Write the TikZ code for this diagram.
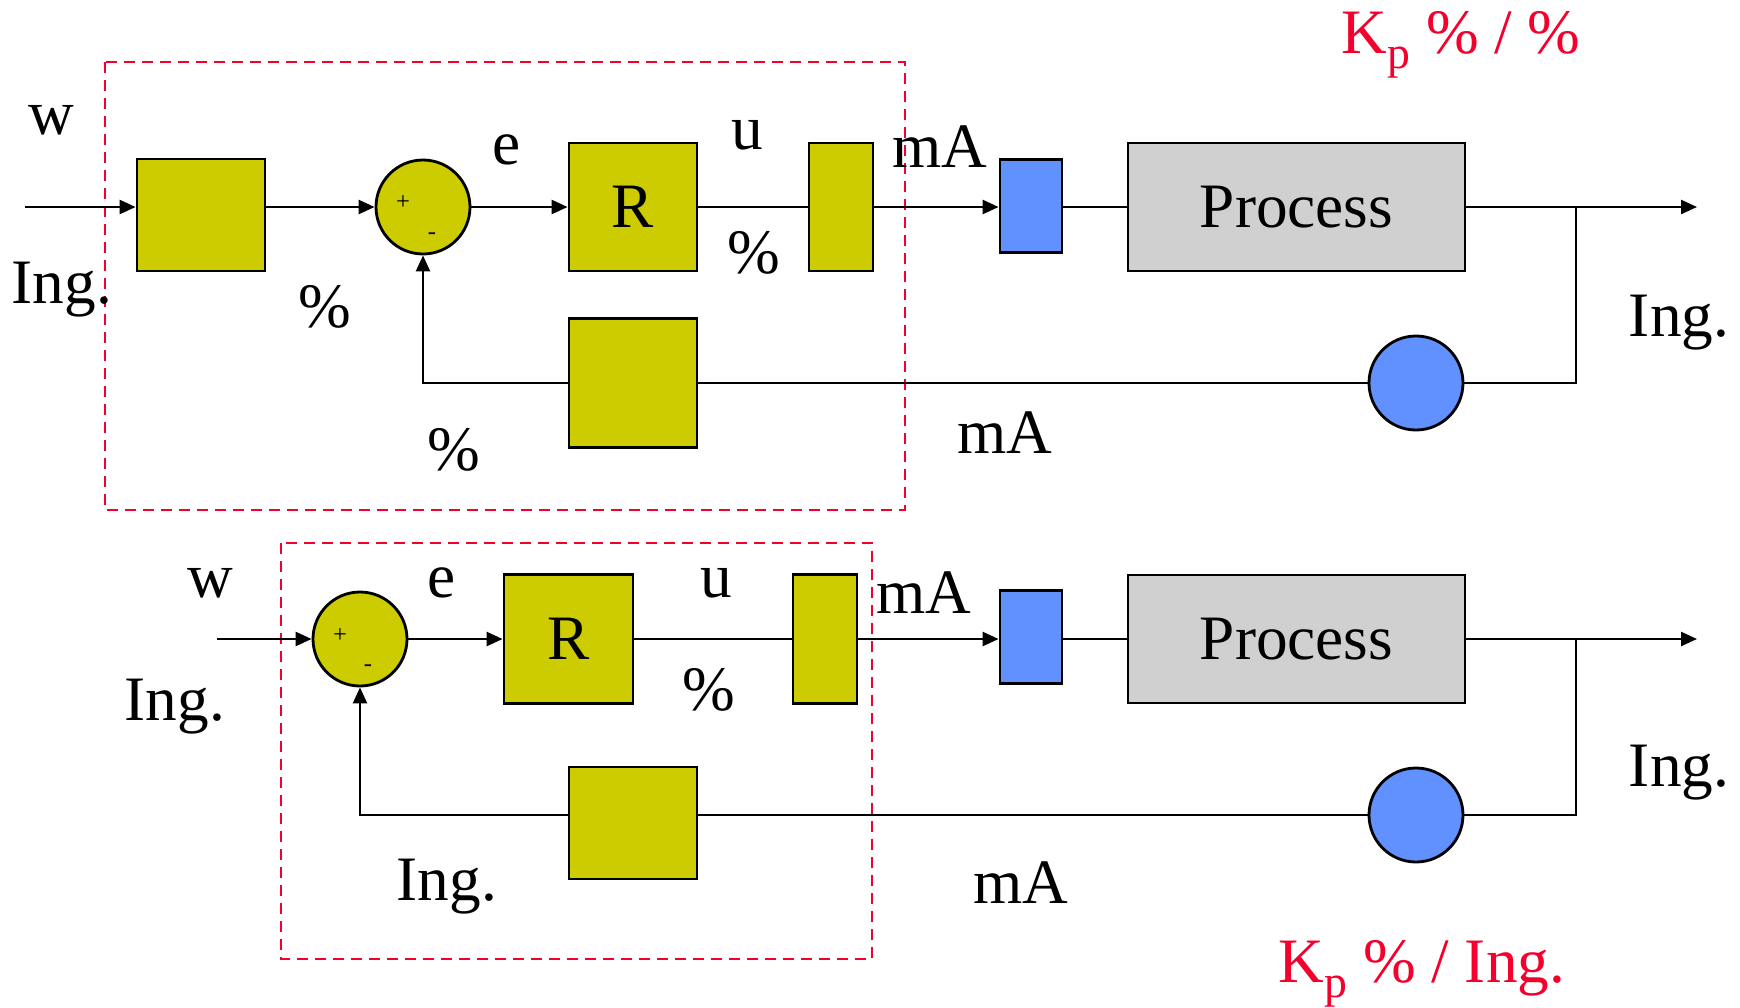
\documentclass[tikz,border=0pt]{standalone}
\usepackage{fontspec}
\setmainfont{Liberation Serif}
\usetikzlibrary{arrows.meta}

\definecolor{blockyellow}{RGB}{204,204,0}
\definecolor{valveblue}{RGB}{97,144,255}
\definecolor{procgray}{RGB}{208,208,208}
\definecolor{kpred}{RGB}{245,0,45}

\newcommand{\kpsub}{K\raisebox{-4.5pt}{\fontsize{13}{13}\selectfont p}}

\begin{document}
\begin{tikzpicture}[
    >={Triangle[length=1.6mm,width=1.4mm]},
    lbl/.style={font=\fontsize{18}{20}\selectfont, inner sep=0pt},
    sgn/.style={font=\fontsize{7}{8}\selectfont, inner sep=0pt},
    kp/.style={lbl, text=kpred},
    yblock/.style={draw, line width=0.8pt, fill=blockyellow, inner sep=0pt,
                   font=\fontsize{18}{20}\selectfont},
    summer/.style={draw, circle, line width=0.8pt, fill=blockyellow,
                   minimum size=9.4mm, inner sep=0pt},
    valve/.style={draw, line width=0.8pt, fill=valveblue, inner sep=0pt,
                  minimum width=6.2mm, minimum height=9.3mm},
    sensor/.style={draw, circle, line width=0.8pt, fill=valveblue,
                   minimum size=9.4mm, inner sep=0pt},
    process/.style={draw, line width=0.8pt, fill=procgray, inner sep=0pt,
                    minimum width=33.7mm, minimum height=12.8mm,
                    font=\fontsize{18}{20}\selectfont},
    wire/.style={line width=0.7pt},
    zone/.style={draw=kpred, dashed, line width=0.8pt,
                 dash pattern=on 1.1mm off 0.7mm}
  ]
  \useasboundingbox (0,0) rectangle (17.40,-10.07);

  % upper loop: set point scaled in %
  \draw[zone] (1.05,-0.62) rectangle (9.05,-5.10);

  \coordinate (in1) at (0.25,-2.07);
  \node[yblock, minimum width=12.8mm, minimum height=11.2mm] (pre1) at (2.01,-2.15) {};
  \node[summer] (sum1) at (4.23,-2.07) {};
  \node[sgn] (plus1) at (4.03,-2.03) {+};
  \node[sgn] (minus1) at (4.32,-2.36) {-};
  \node[yblock, minimum width=12.8mm, minimum height=12.8mm] (reg1) at (6.33,-2.07) {R};
  \node[yblock, minimum width=6.4mm, minimum height=12.8mm] (act1) at (8.41,-2.07) {};
  \node[valve] (valve1) at (10.31,-2.06) {};
  \node[process] (proc1) at (12.965,-2.07) {Process};
  \coordinate (out1) at (16.97,-2.07);
  \coordinate (split1) at (15.76,-2.07);
  \coordinate (corner1) at (15.76,-3.83);
  \node[sensor] (sens1) at (14.16,-3.83) {};
  \node[yblock, minimum width=12.8mm, minimum height=12.9mm] (tr1) at (6.33,-3.83) {};
  \coordinate (fb1) at (4.23,-3.83);

  \draw[wire, ->] (in1) -- (in1 -| pre1.west);
  \draw[wire, ->] (pre1.east |- sum1) -- (sum1.west);
  \draw[wire, ->] (sum1.east) -- (reg1.west);
  \draw[wire] (reg1.east) -- (act1.west);
  \draw[wire, ->] (act1.east) -- (valve1.west |- act1.east);
  \draw[wire] (valve1.east |- proc1.west) -- (proc1.west);
  \draw[wire, ->] (proc1.east) -- (out1);
  \draw[wire] (split1) -- (corner1) -- (sens1.east);
  \draw[wire] (sens1.west) -- (tr1.east);
  \draw[wire, ->] (tr1.west) -- (fb1) -- (sum1.south);

  \node[lbl] (w1) at (0.51,-1.20) {w};
  \node[lbl] (ing1) at (0.62,-2.90) {Ing.};
  \node[lbl] (pc1) at (3.25,-3.07) {\%};
  \node[lbl] (e1) at (5.07,-1.50) {e};
  \node[lbl] (u1) at (7.47,-1.35) {u};
  \node[lbl] (pcu1) at (7.54,-2.53) {\%};
  \node[lbl] (ma1) at (9.40,-1.47) {mA};
  \node[lbl] (pcf1) at (4.54,-4.50) {\%};
  \node[lbl] (mab1) at (10.05,-4.33) {mA};
  \node[lbl] (ingr1) at (16.79,-3.23) {Ing.};
  \node[kp, anchor=base west] (kp1) at (13.41,-0.53) {\kpsub{} \% / \%};

  % lower loop: set point in engineering units
  \draw[zone] (2.81,-5.43) rectangle (8.72,-9.59);

  \coordinate (in2) at (2.17,-6.39);
  \node[summer] (sum2) at (3.60,-6.39) {};
  \node[sgn] (plus2) at (3.40,-6.36) {+};
  \node[sgn] (minus2) at (3.68,-6.68) {-};
  \node[yblock, minimum width=12.9mm, minimum height=12.9mm] (reg2) at (5.685,-6.39) {R};
  \node[yblock, minimum width=6.4mm, minimum height=12.9mm] (act2) at (8.25,-6.39) {};
  \node[valve] (valve2) at (10.31,-6.37) {};
  \node[process] (proc2) at (12.965,-6.39) {Process};
  \coordinate (out2) at (16.97,-6.39);
  \coordinate (split2) at (15.76,-6.39);
  \coordinate (corner2) at (15.76,-8.15);
  \node[sensor] (sens2) at (14.16,-8.15) {};
  \node[yblock, minimum width=12.8mm, minimum height=11.2mm] (tr2) at (6.33,-8.23) {};
  \coordinate (fb2) at (3.60,-8.15);

  \draw[wire, ->] (in2) -- (sum2.west);
  \draw[wire, ->] (sum2.east) -- (reg2.west);
  \draw[wire] (reg2.east) -- (act2.west);
  \draw[wire, ->] (act2.east) -- (valve2.west |- act2.east);
  \draw[wire] (valve2.east |- proc2.west) -- (proc2.west);
  \draw[wire, ->] (proc2.east) -- (out2);
  \draw[wire] (split2) -- (corner2) -- (sens2.east);
  \draw[wire] (sens2.west) -- (sens2.west -| tr2.east);
  \draw[wire, ->] (tr2.west |- fb2) -- (fb2) -- (sum2.south);

  \node[lbl] (w2) at (2.10,-5.83) {w};
  \node[lbl] (ing2) at (1.75,-7.07) {Ing.};
  \node[lbl] (e2) at (4.42,-5.83) {e};
  \node[lbl] (u2) at (7.16,-5.83) {u};
  \node[lbl] (pcu2) at (7.09,-6.90) {\%};
  \node[lbl] (ma2) at (9.24,-5.93) {mA};
  \node[lbl] (ingf2) at (4.47,-8.87) {Ing.};
  \node[lbl] (mab2) at (10.21,-8.83) {mA};
  \node[lbl] (ingr2) at (16.79,-7.73) {Ing.};
  \node[kp, anchor=base west] (kp2) at (12.78,-9.82) {\kpsub{} \% / Ing.};
\end{tikzpicture}
\end{document}
